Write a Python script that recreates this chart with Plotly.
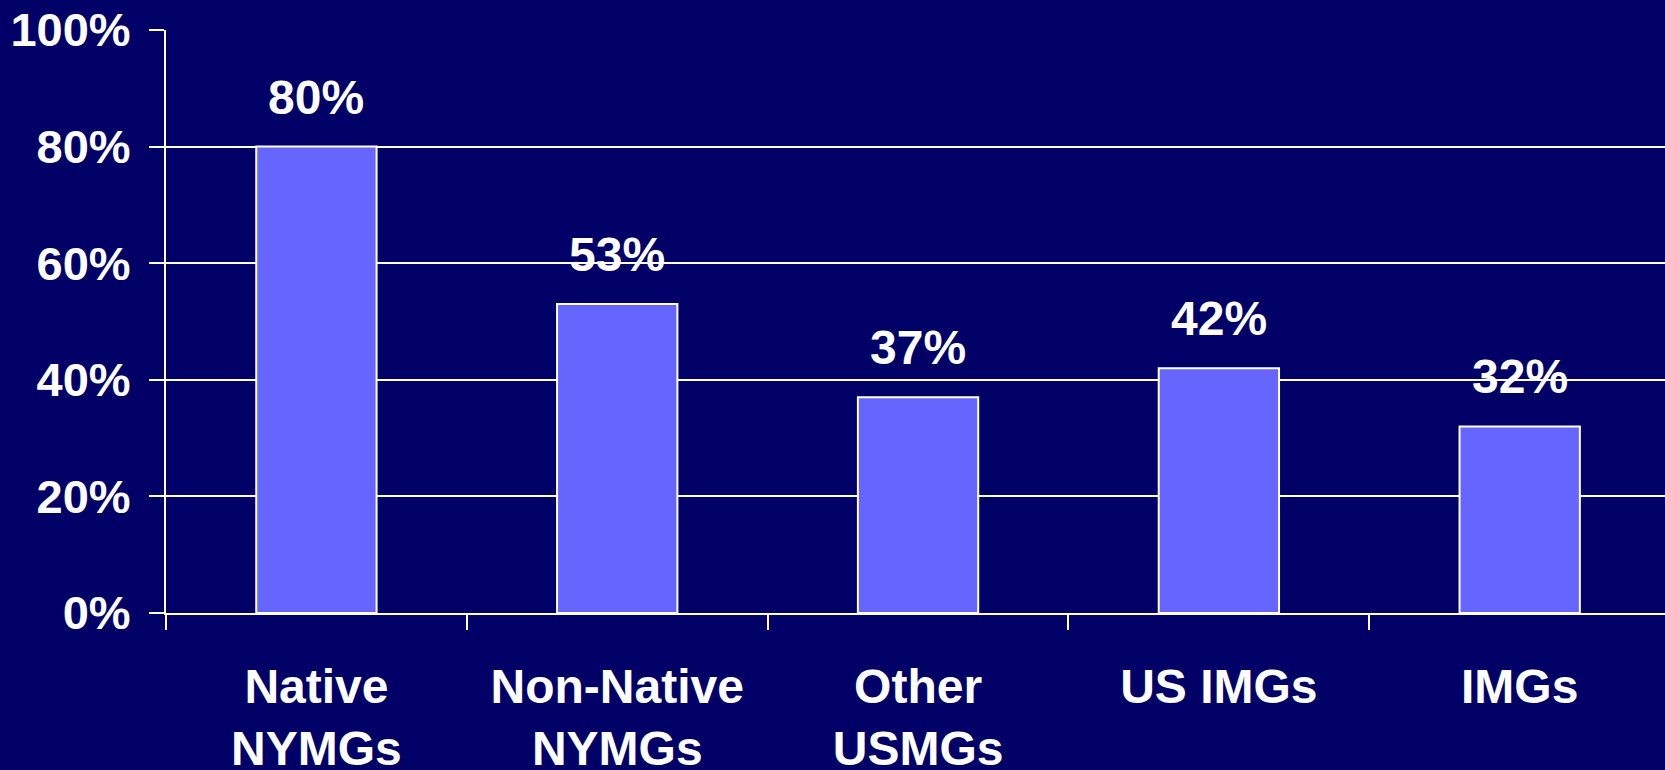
import plotly.graph_objects as go

categories = ["Native<br>NYMGs", "Non-Native<br>NYMGs", "Other<br>USMGs", "US IMGs", "IMGs"]
values = [80, 53, 37, 42, 32]
value_labels = ["80%", "53%", "37%", "42%", "32%"]
y_ticks = [0, 20, 40, 60, 80, 100]
y_tick_labels = ["0%", "20%", "40%", "60%", "80%", "100%"]

BG = "#000066"
BAR = "#6666FF"
FAM = "Liberation Sans, Arial, sans-serif"
FONT = dict(family=FAM, size=48, color="white", weight="bold")
YFONT = dict(family=FAM, size=47, color="white", weight="bold")

fig = go.Figure()
fig.add_trace(go.Bar(
    x=list(range(len(categories))),
    y=values,
    width=0.4,
    marker=dict(color=BAR, line=dict(color="white", width=2)),
    hoverinfo="skip",
))

for i, (v, t) in enumerate(zip(values, value_labels)):
    fig.add_annotation(x=i, y=v, text=t, showarrow=False, yanchor="bottom",
                       yshift=21, font=FONT)

fig.update_layout(
    width=1665, height=770,
    margin=dict(l=166, r=0, t=30, b=157, autoexpand=False),
    paper_bgcolor=BG, plot_bgcolor=BG,
    showlegend=False,
    font=FONT,
    xaxis=dict(
        range=[-0.5, 4.483],
        tickmode="array",
        tickvals=list(range(len(categories))),
        ticktext=categories,
        showgrid=False,
        zeroline=False,
        showline=False,
        ticks="",
        tickfont=FONT,
        ticklabelstandoff=41,
        automargin=False,
    ),
    yaxis=dict(
        range=[0, 100],
        tickmode="array",
        tickvals=y_ticks,
        ticktext=y_tick_labels,
        showgrid=True, gridcolor="white", gridwidth=2,
        zeroline=False,
        showline=True, linecolor="white", linewidth=2,
        ticks="outside", ticklen=15, tickcolor="white", tickwidth=2,
        tickfont=YFONT,
        ticklabelstandoff=9,
        automargin=False,
    ),
)

# category boundary ticks on the x axis, drawn via a secondary axis
fig.update_layout(
    xaxis2=dict(
        overlaying="x", matches="x",
        range=[-0.5, 4.483],
        tickmode="array",
        tickvals=[-0.5, 0.5, 1.5, 2.5, 3.5, 4.5],
        showticklabels=False,
        ticks="outside", ticklen=15, tickcolor="white", tickwidth=2,
        showline=True, linecolor="white", linewidth=2,
        showgrid=False, zeroline=False,
        side="bottom", anchor="y",
        automargin=False,
    ),
)
fig.add_trace(go.Scatter(x=[0], y=[0], xaxis="x2", mode="markers",
                         marker=dict(opacity=0), hoverinfo="skip"))

fig.write_html(
    "out.html",
    config={"displayModeBar": False},
    post_script="document.body.style.margin='0';document.body.style.background='#000066';",
)
